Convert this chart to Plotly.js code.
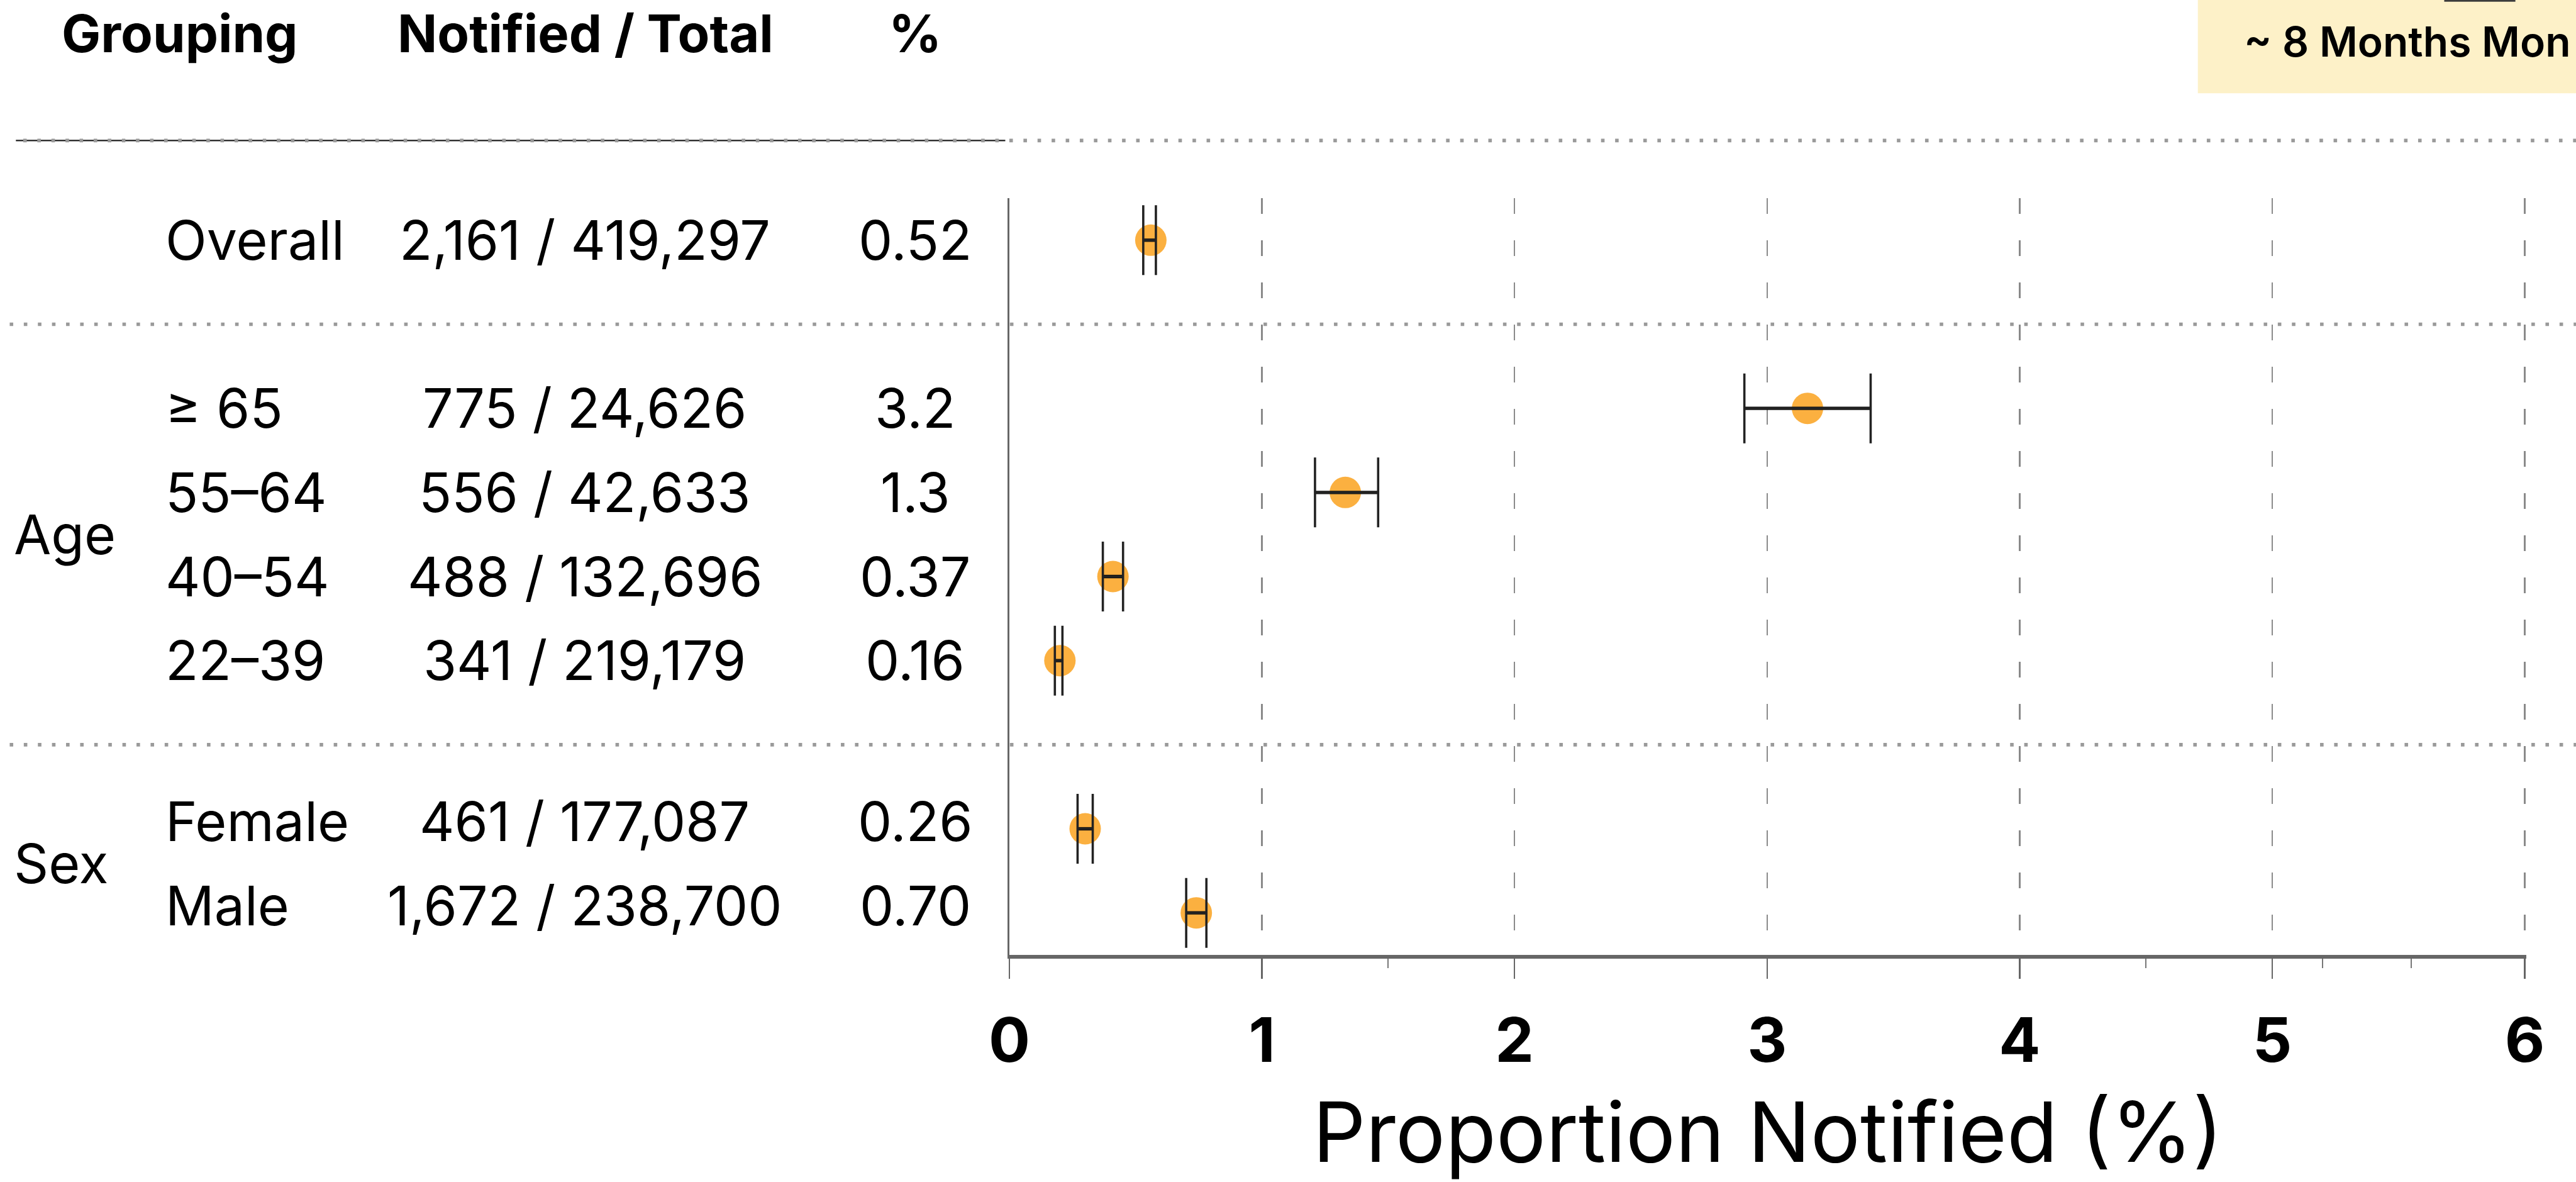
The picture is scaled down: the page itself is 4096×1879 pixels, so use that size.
<!DOCTYPE html>
<html>
<head>
<meta charset="utf-8">
<script src="https://cdn.plot.ly/plotly-3.0.1.min.js"></script>
<style>
  html, body { margin: 0; padding: 0; background: #ffffff; }
  #chart { width: 4096px; height: 1879px; }
</style>
</head>
<body>
<div id="chart"></div>
<script>
// ---------------- data ----------------
const rowLabels     = ['Overall', '≥ 65', '55–64', '40–54', '22–39', 'Female', 'Male'];
const rowGroups     = ['', 'Age', 'Age', 'Age', 'Age', 'Sex', 'Sex'];
const notifiedTotal = ['2,161 / 419,297', '775 / 24,626', '556 / 42,633', '488 / 132,696',
                       '341 / 219,179', '461 / 177,087', '1,672 / 238,700'];
const pctText       = ['0.52', '3.2', '1.3', '0.37', '0.16', '0.26', '0.70'];
const estimate      = [0.56, 3.16, 1.33, 0.41, 0.20, 0.30, 0.74];
const ciLower       = [0.53, 2.91, 1.21, 0.37, 0.18, 0.27, 0.70];
const ciUpper       = [0.58, 3.41, 1.46, 0.45, 0.21, 0.33, 0.78];
const xTickVals     = [0, 1, 2, 3, 4, 5, 6];
const xTickText     = ['0', '1', '2', '3', '4', '5', '6'];
const minorTickVals = [1.5, 4.5, 5.2, 5.55];
const headers       = ['Grouping', 'Notified / Total', '%'];
const axisTitle     = 'Proportion Notified (%)';
const boxText       = '~ 8 Months Mon';

// ---------------- layout geometry ----------------
const S = 0.935;                 // reference -> window scale
const FW = 4096, FH = 1879;
const XMAX = 6.006;
const L = 1717 * S;
const W = (4294 - 1717) * S * XMAX / 6;
const T = 336.5 * S;
const H = (1623.5 - 336.5) * S;
const xp = p => (p - L) / W;          // window px -> paper x
const yp = p => 1 - (p - T) / H;      // window px -> paper y

// row positions (blank row between groups)
const rowY = [];
const sepY = [];
let r = 0;
rowGroups.forEach((g, i) => {
  if (i > 0) {
    if (g !== rowGroups[i - 1]) { sepY.push(r + 1); r += 2; }
    else { r += 1; }
  }
  rowY.push(r);
});
const groupNames = [...new Set(rowGroups.filter(g => g))];
const groupY = groupNames.map(g => {
  const ys = rowY.filter((y, i) => rowGroups[i] === g);
  return ys.reduce((a, b) => a + b, 0) / ys.length;
});
// small vertical nudge of the table text per group (as in the reference)
const textNudge = { '': 0, 'Age': 0, 'Sex': -0.085 };

const FONT = 'Inter, "Open Sans", sans-serif';
const TXT = 86;

const annotations = [];
// headers
const headerX = [306, 996, 1557];
headers.forEach((h, i) => annotations.push({
  text: h, xref: 'paper', yref: 'paper', x: xp(headerX[i] * S), y: yp(56 * S),
  xanchor: 'center', yanchor: 'middle', showarrow: false,
  font: { family: FONT, size: 83, color: '#000', weight: 700 }
}));
// group labels
groupNames.forEach((g, i) => annotations.push({
  text: g, xref: 'paper', yref: 'y', x: xp(22 * S), y: groupY[i] + textNudge[g],
  xanchor: 'left', yanchor: 'middle', showarrow: false,
  font: { family: FONT, size: TXT, color: '#000' }
}));
// rows
rowLabels.forEach((lab, i) => {
  const y = rowY[i] + textNudge[rowGroups[i]];
  annotations.push({
    text: lab, xref: 'paper', yref: 'y', x: xp(280 * S), y: y,
    xanchor: 'left', yanchor: 'middle', showarrow: false,
    font: { family: FONT, size: TXT, color: '#000' }
  });
  annotations.push({
    text: notifiedTotal[i], xref: 'paper', yref: 'y', x: xp(995 * S), y: y,
    xanchor: 'center', yanchor: 'middle', showarrow: false,
    font: { family: FONT, size: TXT, color: '#000' }
  });
  annotations.push({
    text: pctText[i], xref: 'paper', yref: 'y', x: xp(1557 * S), y: y,
    xanchor: 'center', yanchor: 'middle', showarrow: false,
    font: { family: FONT, size: TXT, color: '#000' }
  });
});
// box text
annotations.push({
  text: boxText, xref: 'paper', yref: 'paper', x: xp(4090), y: yp(70.5 * S),
  xanchor: 'right', yanchor: 'middle', showarrow: false,
  font: { family: FONT, size: 66, color: '#000', weight: 600 }
});

const dotLine = { color: '#9a9a9a', width: 5.6, dash: '5.6px,16.8px' };
const shapes = [
  // yellow box
  { type: 'rect', xref: 'paper', yref: 'paper', x0: xp(3738 * S), x1: xp(4400 * S),
    y0: yp(158 * S), y1: yp(-5), fillcolor: '#fdf1c8', line: { width: 0 }, layer: 'below' },
  { type: 'rect', xref: 'paper', yref: 'paper', x0: xp(4157 * S), x1: xp(4278 * S),
    y0: yp(2.2), y1: yp(-2), fillcolor: '#3c3c3c', line: { width: 0 }, layer: 'below' },
  // top rule
  { type: 'line', xref: 'paper', yref: 'paper', x0: xp(27.5 * S), x1: xp(1710 * S),
    y0: yp(238.5 * S), y1: yp(238.5 * S), line: { color: '#1a1a1a', width: 2.4 } },
  { type: 'line', xref: 'paper', yref: 'paper', x0: xp(40 * S), x1: xp(4400 * S),
    y0: yp(238.5 * S), y1: yp(238.5 * S), line: dotLine }
];
sepY.forEach(y => shapes.push({
  type: 'line', xref: 'paper', yref: 'y', x0: xp(17 * S), x1: xp(4400 * S),
  y0: y, y1: y, line: dotLine, layer: 'below'
}));

const traces = [
  { // dots
    type: 'scatter', mode: 'markers', x: estimate, y: rowY,
    marker: { size: 50, color: '#fbb040', line: { width: 0 } },
    hoverinfo: 'skip', showlegend: false
  },
  { // CI bar (thick)
    type: 'scatter', mode: 'markers', x: estimate, y: rowY,
    marker: { size: 1, color: 'rgba(0,0,0,0)' },
    error_x: { type: 'data', symmetric: false,
      array: estimate.map((e, i) => ciUpper[i] - e),
      arrayminus: estimate.map((e, i) => e - ciLower[i]),
      thickness: 5.3, width: 0, color: '#0d0d0d' },
    hoverinfo: 'skip', showlegend: false
  },
  { // CI caps (thin)
    type: 'scatter', mode: 'markers', x: estimate, y: rowY,
    marker: { size: 1, color: 'rgba(0,0,0,0)' },
    error_x: { type: 'data', symmetric: false,
      array: estimate.map((e, i) => ciUpper[i] - e),
      arrayminus: estimate.map((e, i) => e - ciLower[i]),
      thickness: 3.6, width: 55.5, color: '#222222' },
    hoverinfo: 'skip', showlegend: false
  }
];

const layout = {
  width: FW, height: FH,
  margin: { l: L, r: FW - L - W, t: T, b: FH - T - H, pad: 0 },
  paper_bgcolor: '#ffffff', plot_bgcolor: '#ffffff',
  showlegend: false,
  xaxis: {
    range: [0, XMAX], tickmode: 'array', tickvals: xTickVals, ticktext: xTickText,
    showgrid: true, gridcolor: '#8a8a8a', gridwidth: 2.5, griddash: '25px,42px',
    zeroline: false, showline: true, linecolor: '#666666', linewidth: 5.6,
    ticks: 'outside', ticklen: 32, tickwidth: 2.3, tickcolor: '#666666',
    ticklabelstandoff: 15,
    tickfont: { family: FONT, size: 98, color: '#000', weight: 700 },
    minor: { tickmode: 'array', tickvals: minorTickVals, ticks: 'outside', ticklen: 15,
             tickwidth: 2, tickcolor: '#777777', showgrid: false },
    title: { text: axisTitle, font: { family: FONT, size: 132, color: '#000' }, standoff: 60 },
    fixedrange: true
  },
  yaxis: {
    range: [8.5, -0.5], showticklabels: false, ticks: '', showgrid: false, zeroline: false,
    showline: true, linecolor: '#666666', linewidth: 2.8, fixedrange: true
  },
  annotations: annotations,
  shapes: shapes
};

Plotly.newPlot('chart', traces, layout, { displayModeBar: false, staticPlot: true });
</script>
</body>
</html>
